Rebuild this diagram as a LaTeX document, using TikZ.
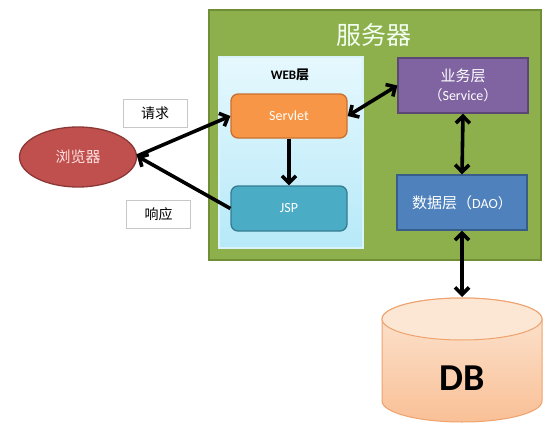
\documentclass[tikz,border=0pt]{standalone}
\usepackage{fontspec}
\setmainfont{Carlito}
\newfontfamily\cjk{Noto Sans CJK SC}
\usetikzlibrary{arrows.meta,shapes.geometric}
\definecolor{srvgreen}{HTML}{8EB04C}
\definecolor{srvborder}{HTML}{6F8E36}
\definecolor{webtop}{HTML}{E6F8FE}
\definecolor{webbot}{HTML}{B6E9F8}
\definecolor{webbd}{HTML}{D9F3FB}
\definecolor{servletor}{HTML}{F79646}
\definecolor{servletbd}{HTML}{C9702F}
\definecolor{jspblue}{HTML}{4BACC6}
\definecolor{jspbd}{HTML}{357D91}
\definecolor{svcpurple}{HTML}{8064A2}
\definecolor{svcbd}{HTML}{5C4776}
\definecolor{daoblue}{HTML}{4F81BD}
\definecolor{daobd}{HTML}{385D8A}
\definecolor{brred}{HTML}{C0504D}
\definecolor{brbd}{HTML}{8C3836}
\definecolor{dbtop}{HTML}{FCE6D4}
\definecolor{dbbot}{HTML}{F9C096}
\definecolor{dbbd}{HTML}{EFA26E}
\tikzset{
  box/.style={draw, line width=1.3pt, minimum width=116pt, minimum height=44pt, text=white, align=center, inner sep=0pt},
  lbl/.style={draw=black!22, fill=white, line width=0.8pt, minimum width=64pt, minimum height=28pt, inner sep=0pt, font=\cjk\fontsize{14}{16}\selectfont},
  conn/.style={line width=3.6pt, black},
  tip/.style={-{Straight Barb[length=7pt,width=14pt]}},
  tips/.style={{Straight Barb[length=7pt,width=14pt]}-{Straight Barb[length=7pt,width=14pt]}}
}
\begin{document}
\begin{tikzpicture}[x=1pt,y=-1pt]
\useasboundingbox (0,0) rectangle (549,436);
% server box
\node[draw=srvborder, fill=srvgreen, line width=1.6pt, minimum width=332pt, minimum height=250pt, inner sep=0pt] (server) at (375,135) {};
\node[text=white!95!green, font=\cjk\fontsize{25}{28}\selectfont] (srvtitle) at (374,35) {服务器};
% web layer
\node[draw=webbd, top color=webtop, bottom color=webbot, line width=1.2pt, minimum width=144pt, minimum height=191pt, inner sep=0pt] (web) at (291,152.5) {};
\node[font=\bfseries\fontsize{13}{15}\selectfont] (webtitle) at (290,75) {WEB{\cjk\bfseries 层}};
% servlet & jsp
\node[box, rounded corners=7pt, fill=servletor, draw=servletbd, font=\fontsize{14}{16}\selectfont] (servlet) at (289,116) {Servlet};
\node[box, rounded corners=7pt, fill=jspblue, draw=jspbd, minimum height=45pt, font=\fontsize{14}{16}\selectfont] (jsp) at (289,208.5) {JSP};
% service & dao
\node[box, fill=svcpurple, draw=svcbd, minimum width=130pt, minimum height=55pt, font=\fontsize{14}{19}\selectfont] (svc) at (463,85.5) {{\cjk\fontsize{15}{19}\selectfont 业务层}\\{\cjk （}Service{\cjk ）}};
\node[box, fill=daoblue, draw=daobd, minimum width=130pt, minimum height=55pt, font=\fontsize{14}{16}\selectfont] (dao) at (462,202.5) {{\cjk\fontsize{15}{17}\selectfont 数据层（}DAO{\cjk ）}};
% browser
\node[ellipse, draw=brbd, fill=brred, line width=1.3pt, minimum width=117pt, minimum height=60pt, inner sep=0pt, text=white!88!red, font=\cjk\fontsize{15}{17}\selectfont] (browser) at (78,157) {浏览器};
\node[lbl] (req) at (155,113) {请求};
\node[lbl] (resp) at (158.5,214) {响应};
% database cylinder
\shade[top color=dbtop, bottom color=dbbot, draw=dbbd, line width=1pt]
  (382,319) -- (382,401) arc (180:0:80 and 21) -- (542,319) arc (0:-180:80 and 21) -- cycle;
\draw[dbbd, line width=1pt, fill=dbtop] (462,319) ellipse (80 and 21);
\coordinate (dbin) at (462,297);
\node[font=\bfseries\fontsize{38}{42}\selectfont] (db) at (462,378) {DB};
% connectors
\coordinate (bpt) at (137,156);
\draw[conn, tip] (bpt) -- (servlet.west);
\draw[conn, tip] (jsp.west) -- (bpt);
\draw[conn, tip] (servlet.south) -- (jsp.north);
\draw[conn, tips] (servlet.east) -- (svc.west);
\draw[conn, tips] (svc.south) -- (dao.north);
\draw[conn, tips] (dao.south) -- (dbin);
\end{tikzpicture}
\end{document}
